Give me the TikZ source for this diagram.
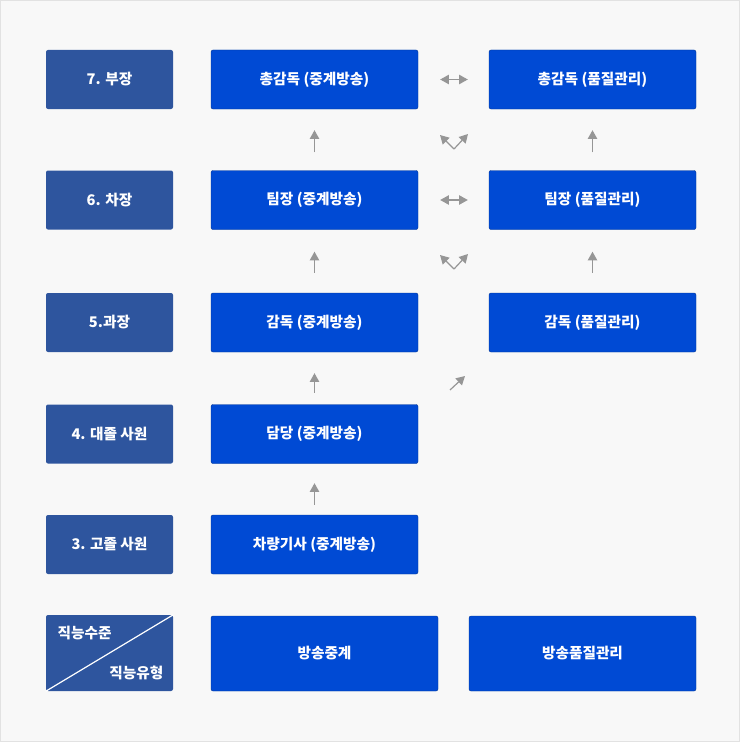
\documentclass[tikz,border=0pt]{standalone}
\usepackage{fontspec}
\setmainfont{Noto Sans CJK KR}
\usetikzlibrary{arrows.meta}
\definecolor{bgcol}{RGB}{248,248,248}
\definecolor{framecol}{RGB}{226,226,226}
\definecolor{levelblue}{RGB}{46,85,158}
\definecolor{jobblue}{RGB}{0,74,212}
\definecolor{arrowgray}{RGB}{150,150,150}
\begin{document}
\begin{tikzpicture}[x=0.75pt,y=-0.75pt]
        \tikzstyle{level}=[rectangle,rounded corners=1.5pt,fill=levelblue,text=white,font=\bfseries\fontsize{11pt}{13pt}\selectfont,minimum width=127*0.75pt,minimum height=59*0.75pt,inner sep=0pt]
        \tikzstyle{job}=[rectangle,rounded corners=1.5pt,fill=jobblue,draw=jobblue!70!black,line width=0.3pt,text=white,font=\bfseries\fontsize{11pt}{13pt}\selectfont,minimum width=207*0.75pt,minimum height=59*0.75pt,inner sep=0pt]
        \tikzstyle{track}=[job,minimum width=227*0.75pt,minimum height=75*0.75pt]
        \tikzstyle{edge}=[draw=arrowgray,line width=0.9pt,-{Triangle[length=6.5pt,width=7pt]}]
        \tikzstyle{both}=[edge,{Triangle[length=6.5pt,width=7pt]}-{Triangle[length=6.5pt,width=7pt]}]
        % background
        \path[fill=bgcol,draw=framecol,line width=0.75pt] (0.5,0.5) rectangle (739.5,741.5);
        \useasboundingbox (0,0) rectangle (740,742);
        % levels
        \node [level] (l7) at (109.5,79.5) {7. 부장};
        \node [level] (l6) at (109.5,200) {6. 차장};
        \node [level] (l5) at (109.5,322.5) {5.과장};
        \node [level] (l4) at (109.5,434) {4. 대졸 사원};
        \node [level] (l3) at (109.5,544.5) {3. 고졸 사원};
        \node [level,minimum height=76*0.75pt] (corner) at (109.5,653) {};
        \draw [white,line width=0.9pt] (corner.south west) -- (corner.north east);
        \node [text=white,font=\bfseries\fontsize{11pt}{13pt}\selectfont,anchor=west] (rank) at (53,633) {직능수준};
        \node [text=white,font=\bfseries\fontsize{11pt}{13pt}\selectfont,anchor=east] (kind) at (168,673) {직능유형};
        % relay
        \node [job] (r7) at (314.5,79.5) {총감독 (중계방송)};
        \node [job] (r6) at (314.5,200) {팀장 (중계방송)};
        \node [job] (r5) at (314.5,322.5) {감독 (중계방송)};
        \node [job] (r4) at (314.5,434) {담당 (중계방송)};
        \node [job] (r3) at (314.5,544.5) {차량기사 (중계방송)};
        % quality
        \node [job] (q7) at (592.5,79.5) {총감독 (품질관리)};
        \node [job] (q6) at (592.5,200) {팀장 (품질관리)};
        \node [job] (q5) at (592.5,322.5) {감독 (품질관리)};
        % tracks
        \node [track] (trelay) at (324.5,653.5) {방송중계};
        \node [track] (tquality) at (582.5,653.5) {방송품질관리};
        % promotions
        \path[edge,shorten <=18*0.75pt,shorten >=21*0.75pt] (r6) -- (r7);
        \path[edge,shorten <=20*0.75pt,shorten >=22*0.75pt] (r5) -- (r6);
        \path[edge,shorten <=11.5*0.75pt,shorten >=21*0.75pt] (r4) -- (r5);
        \path[edge,shorten <=10*0.75pt,shorten >=19.5*0.75pt] (r3) -- (r4);
        \path[edge,shorten <=18*0.75pt,shorten >=21*0.75pt] (q6) -- (q7);
        \path[edge,shorten <=20*0.75pt,shorten >=22*0.75pt] (q5) -- (q6);
        \path[both,shorten <=22*0.75pt,shorten >=21*0.75pt] (r7) -- (q7);
        \path[both,shorten <=22*0.75pt,shorten >=21*0.75pt] (r6) -- (q6);
        % cross moves
        \coordinate (v6) at (454,149);
        \coordinate (v6l) at (440,135);
        \coordinate (v6r) at (468,134);
        \coordinate (v5) at (454,269);
        \coordinate (v5l) at (440,255);
        \coordinate (v5r) at (468,254);
        \coordinate (d4) at (450,390);
        \coordinate (d4r) at (465,376);
        \path[edge] (v6) -- (v6l);
        \path[edge] (v6) -- (v6r);
        \path[edge] (v5) -- (v5l);
        \path[edge] (v5) -- (v5r);
        \path[edge] (d4) -- (d4r);
      \end{tikzpicture}
\end{document}
